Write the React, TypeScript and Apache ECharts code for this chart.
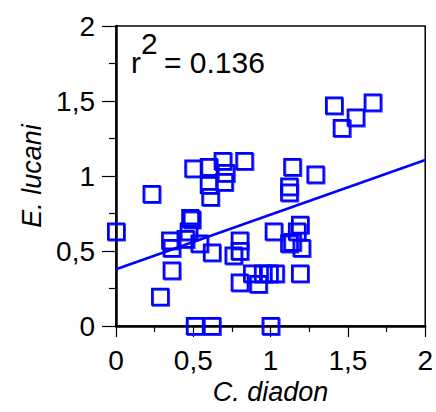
import React, { useEffect, useRef } from "react";
import * as echarts from "echarts";

const cDiadon = [
  0.0, 0.23, 0.285, 0.36, 0.36, 0.35, 0.45, 0.47, 0.48, 0.49, 0.54, 0.51, 0.62, 1.0, 0.62,
  0.5, 0.6, 0.69, 0.83, 0.71, 0.7, 0.6, 0.61, 0.76, 0.8, 0.8, 0.8, 0.88, 0.92, 0.95, 0.99,
  1.03, 1.02, 1.14, 1.29, 1.12, 1.12, 1.19, 1.17, 1.14, 1.2, 1.12, 1.19, 1.41, 1.66, 1.55, 1.46,
];
const eLucani = [
  0.63, 0.88, 0.195, 0.37, 0.52, 0.57, 0.58, 0.63, 0.72, 0.71, 0.55, 0.0, 0.0, 0.0, 0.49,
  1.05, 1.06, 1.1, 1.1, 1.02, 0.96, 0.94, 0.86, 0.47, 0.5, 0.57, 0.29, 0.35, 0.28, 0.35, 0.35,
  0.35, 0.63, 1.06, 1.01, 0.93, 0.89, 0.675, 0.63, 0.56, 0.52, 0.55, 0.35, 1.47, 1.49, 1.39, 1.32,
];
const fitIntercept = 0.378;
const fitSlope = 0.3645;
const fitXRange = [0, 2];
const rSquaredText = "0.136";
const xAxisName = "C. diadon";
const yAxisName = "E. lucani";

const FONT = "Liberation Sans";
const BLUE = "#0000ff";

export default function App() {
  const ref = useRef<HTMLDivElement>(null);
  useEffect(() => {
    if (!ref.current) return;
    const chart = echarts.init(ref.current, undefined, { renderer: "svg" });
    const points = cDiadon.map((x, i) => [x, eLucani[i]]);
    const fitLine = fitXRange.map((x) => [x, fitIntercept + fitSlope * x]);
    const fmt = (v: number) => String(v).replace(".", ",");
    chart.setOption({
      animation: false,
      backgroundColor: "#ffffff",
      grid: {
        left: 116,
        right: 8,
        top: 26,
        bottom: 86,
        show: true,
        borderColor: "#000",
        borderWidth: 1.5,
        containLabel: false,
      },
      xAxis: {
        type: "value",
        min: 0,
        max: 2,
        interval: 0.5,
        name: xAxisName,
        nameLocation: "middle",
        nameGap: 52,
        nameTextStyle: { fontFamily: FONT, fontSize: 27, fontStyle: "italic", color: "#000" },
        axisLine: { show: true, onZero: false, lineStyle: { color: "#000", width: 2.5 } },
        axisTick: { show: true, inside: false, length: 11, lineStyle: { color: "#000", width: 1.2 } },
        minorTick: { show: true, splitNumber: 2, length: 6, lineStyle: { color: "#000", width: 1.2 } },
        splitLine: { show: false },
        axisLabel: { fontFamily: FONT, fontSize: 28, color: "#000", margin: 20, formatter: fmt },
      },
      yAxis: {
        type: "value",
        min: 0,
        max: 2,
        interval: 0.5,
        name: yAxisName,
        nameLocation: "middle",
        nameRotate: 90,
        nameGap: 51,
        nameTextStyle: { fontFamily: FONT, fontSize: 27, fontStyle: "italic", color: "#000" },
        axisLine: { show: true, onZero: false, lineStyle: { color: "#000", width: 2.5 } },
        axisTick: { show: true, inside: false, length: 14, lineStyle: { color: "#000", width: 1.2 } },
        minorTick: { show: true, splitNumber: 2, length: 7, lineStyle: { color: "#000", width: 1.2 } },
        splitLine: { show: false },
        axisLabel: { fontFamily: FONT, fontSize: 28, color: "#000", margin: 21, formatter: fmt },
      },
      graphic: [
        {
          type: "text",
          left: 131,
          top: 47,
          style: { text: "r", font: `30px '${FONT}'`, fill: "#000" },
        },
        {
          type: "text",
          left: 141,
          top: 28,
          style: { text: "2", font: `30px '${FONT}'`, fill: "#000" },
        },
        {
          type: "text",
          left: 164,
          top: 47,
          style: { text: "= " + rSquaredText, font: `30px '${FONT}'`, fill: "#000" },
        },
      ],
      series: [
        {
          type: "scatter",
          data: points,
          symbol: "rect",
          symbolSize: 16,
          itemStyle: {
            color: "rgba(0,0,0,0)",
            borderColor: BLUE,
            borderWidth: 2,
            opacity: 1,
            shadowColor: "rgba(0,0,255,0.8)",
            shadowBlur: 0,
            shadowOffsetX: 1,
            shadowOffsetY: 1,
          },
          z: 3,
        },
        {
          type: "line",
          data: fitLine,
          symbol: "none",
          lineStyle: { color: BLUE, width: 2.5 },
          z: 4,
        },
      ],
    });
    return () => chart.dispose();
  }, []);
  return (
    <div
      ref={ref}
      style={{ position: "fixed", left: 0, top: 0, width: 436, height: 412, background: "#fff" }}
    />
  );
}
